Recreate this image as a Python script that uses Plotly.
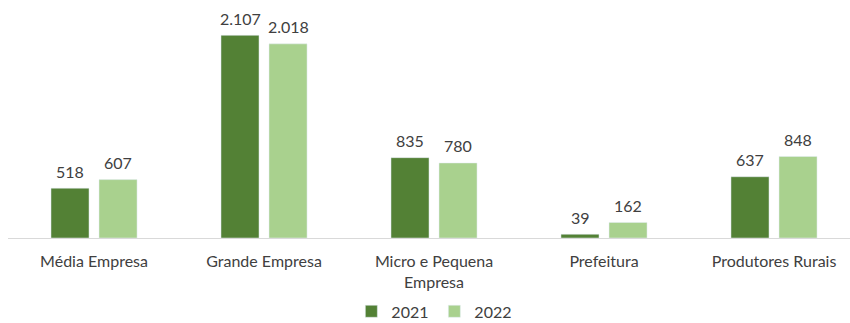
import plotly.graph_objects as go

categories = ["Média Empresa", "Grande Empresa", "Micro e Pequena<br>Empresa", "Prefeitura", "Produtores Rurais"]
values_2021 = [518, 2107, 835, 39, 637]
values_2022 = [607, 2018, 780, 162, 848]

def fmt(v):
    return f"{v:,}".replace(",", ".")

FONT = "Lato, Calibri, Arial, sans-serif"
TXT = "#404040"

fig = go.Figure()
fig.add_trace(go.Bar(name="2021", x=categories, y=values_2021, marker_color="#538135"))
fig.add_trace(go.Bar(name="2022", x=categories, y=values_2022, marker_color="#A9D18E"))

# value labels above bars
for vals, shift in ((values_2021, -24), (values_2022, 24)):
    for c, v in zip(categories, vals):
        fig.add_annotation(x=c, y=v, text=fmt(v), showarrow=False, xshift=shift,
                           yshift=17, yanchor="middle",
                           font=dict(size=16, color=TXT, family=FONT))

fig.update_layout(
    width=850, height=323,
    margin=dict(l=8, r=0, t=10, b=85),
    paper_bgcolor="white", plot_bgcolor="white",
    barmode="group", bargap=0.435, bargroupgap=0.208,
    font=dict(family=FONT, size=16, color=TXT),
    showlegend=True,
    legend=dict(orientation="h", x=0.511, xanchor="center", xref="container",
                y=0.036, yanchor="middle", yref="container",
                font=dict(size=16, color=TXT, family=FONT),
                entrywidth=38, entrywidthmode="pixels", traceorder="normal"),
)
fig.update_xaxes(showline=True, linecolor="#D9D9D9", linewidth=1, ticks="", showgrid=False,
                 tickfont=dict(size=16, color=TXT, family=FONT), ticklabelstandoff=9,
                 automargin=False, range=[-0.506, 4.447])
fig.update_yaxes(visible=False, range=[0, 2370], showgrid=False, automargin=False)

fig.write_html("out.html")
